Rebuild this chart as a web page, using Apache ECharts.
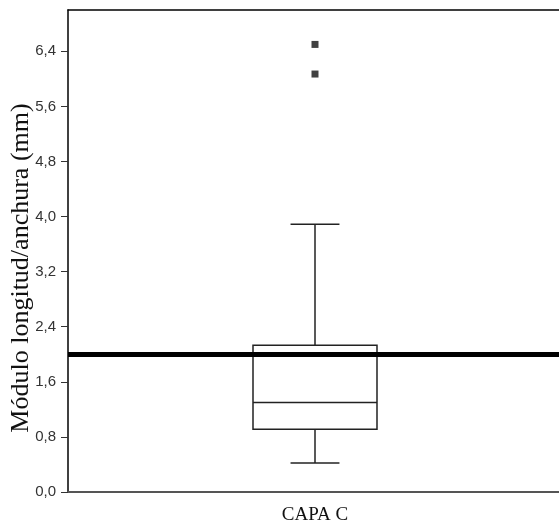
<!DOCTYPE html>
<html>
<head>
<meta charset="utf-8">
<script src="https://cdn.jsdelivr.net/npm/echarts@6/dist/echarts.min.js"></script>
<style>html,body{margin:0;padding:0;background:#fff}#c{width:559px;height:523px}</style>
</head>
<body>
<div id="c"></div>
<script>
const categories = ['CAPA C'];
// [min whisker, Q1, median, Q3, max whisker]
const boxData = [[0.42, 0.91, 1.30, 2.13, 3.89]];
const outliers = [6.50, 6.07];
const refLine = 2.0;
const yTicks = [0, 0.8, 1.6, 2.4, 3.2, 4.0, 4.8, 5.6, 6.4];

const chart = echarts.init(document.getElementById('c'));
const lineColor = '#222';
chart.setOption({
  animation: false,
  grid: { left: 68, right: -3, top: 10, bottom: 31, show: false, containLabel: false, outerBoundsMode: 'none' },
  xAxis: [{
    type: 'category', data: categories,
    axisLine: { lineStyle: { color: '#555', width: 2 } },
    axisTick: { show: false },
    axisLabel: { color: '#111', fontFamily: 'Liberation Serif', fontSize: 19, margin: 14 },
    splitLine: { show: false }
  }, {
    type: 'category', data: categories, position: 'top',
    axisLine: { show: true, lineStyle: { color: '#000', width: 1.5 } },
    axisTick: { show: false }, axisLabel: { show: false }, splitLine: { show: false }
  }],
  yAxis: {
    type: 'value', min: 0, max: 7, interval: 0.8,
    name: 'Módulo longitud/anchura (mm)', nameLocation: 'middle', nameGap: 34, nameMoveOverlap: false,
    nameTextStyle: { fontFamily: 'Liberation Serif', fontSize: 26, color: '#111', padding: [0, 34, 0, 0] },
    axisLine: { show: true, lineStyle: { color: '#000', width: 1.5 } },
    axisTick: { show: true, length: 7, lineStyle: { color: '#333', width: 1 } },
    axisLabel: {
      color: '#333', fontFamily: 'Liberation Sans', fontSize: 15, margin: 12, showMaxLabel: false,
      formatter: v => yTicks.some(t => Math.abs(t - v) < 1e-6) ? v.toFixed(1).replace('.', ',') : ''
    },
    splitLine: { show: false }
  },
  series: [
    {
      type: 'custom',
      data: boxData.map((d, i) => [i].concat(d)),
      encode: { x: 0, y: [1, 2, 3, 4, 5] },
      renderItem: function (params, api) {
        const i = api.value(0);
        const band = api.size([1, 0])[0];
        const bw = band * 0.251, cw = band * 0.099;
        const pMin = api.coord([i, api.value(1)]);
        const pQ1 = api.coord([i, api.value(2)]);
        const pMed = api.coord([i, api.value(3)]);
        const pQ3 = api.coord([i, api.value(4)]);
        const pMax = api.coord([i, api.value(5)]);
        const x = pMin[0];
        const st = { stroke: lineColor, lineWidth: 1.5, fill: null };
        return {
          type: 'group',
          children: [
            { type: 'line', shape: { x1: x, y1: pMin[1], x2: x, y2: pQ1[1] }, style: st },
            { type: 'line', shape: { x1: x, y1: pQ3[1], x2: x, y2: pMax[1] }, style: st },
            { type: 'line', shape: { x1: x - cw / 2, y1: pMin[1], x2: x + cw / 2, y2: pMin[1] }, style: st },
            { type: 'line', shape: { x1: x - cw / 2, y1: pMax[1], x2: x + cw / 2, y2: pMax[1] }, style: st },
            { type: 'rect', shape: { x: x - bw / 2, y: pQ3[1], width: bw, height: pQ1[1] - pQ3[1] }, style: { stroke: lineColor, lineWidth: 1.5, fill: '#fff' } },
            { type: 'line', shape: { x1: x - bw / 2, y1: pMed[1], x2: x + bw / 2, y2: pMed[1] }, style: st }
          ]
        };
      },
      markLine: {
        silent: true, symbol: 'none', label: { show: false },
        lineStyle: { color: '#000', width: 5, type: 'solid' },
        data: [{ yAxis: refLine }]
      },
      z: 2
    },
    {
      type: 'scatter',
      data: outliers.map(v => [0, v]),
      symbol: 'rect', symbolSize: 7,
      itemStyle: { color: '#111' },
      z: 3
    }
  ]
});
</script>
</body>
</html>
